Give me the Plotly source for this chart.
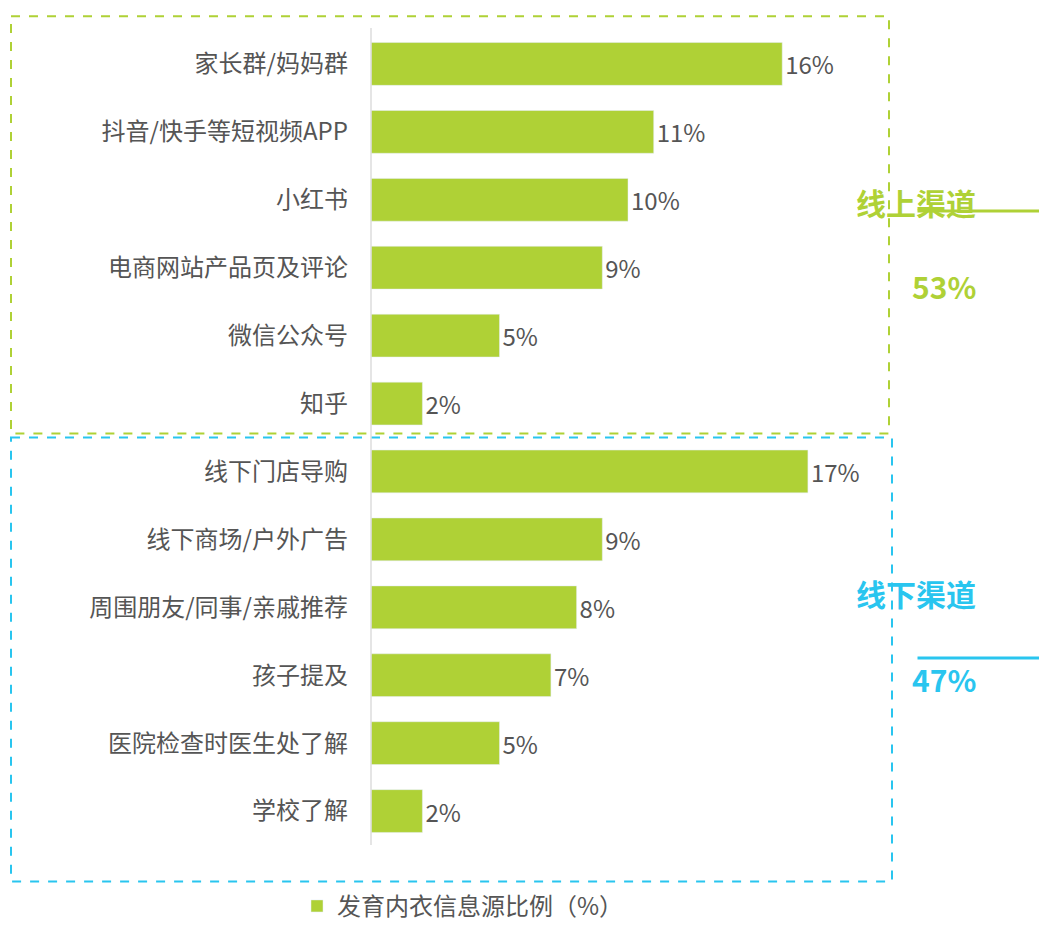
import plotly.graph_objects as go

categories = ["家长群/妈妈群", "抖音/快手等短视频APP", "小红书", "电商网站产品页及评论", "微信公众号", "知乎",
              "线下门店导购", "线下商场/户外广告", "周围朋友/同事/亲戚推荐", "孩子提及", "医院检查时医生处了解", "学校了解"]
values = [16, 11, 10, 9, 5, 2, 17, 9, 8, 7, 5, 2]
online_label, online_share = "线上渠道", "53%"
offline_label, offline_share = "线下渠道", "47%"
legend_name = "发育内衣信息源比例（%）"

W, H = 1047, 933
L, R, T, B = 363, 877, 22, 846
GREEN = "#AFD136"
BLUE = "#29C5EF"
FONT = "Noto Sans CJK SC"


def px(x):
    return (x - L) / (R - L)


def py(y):
    return (B - y) / (B - T)


fig = go.Figure(go.Bar(
    y=categories, x=values, orientation="h", marker_color=GREEN, name=legend_name,
    text=[f"{v}%" for v in values], textposition="outside",
    textfont=dict(size=24, color="#555555", family=FONT), cliponaxis=False,
))

shapes = [
    dict(type="rect", x0=px(3), x1=px(881), y0=py(8), y1=py(430), xref="paper", yref="paper",
         line=dict(color=GREEN, width=2, dash="dash")),
    dict(type="rect", x0=px(3), x1=px(884), y0=py(434), y1=py(883), xref="paper", yref="paper",
         line=dict(color=BLUE, width=2, dash="dash")),
    dict(type="line", x0=px(363), x1=px(363), y0=py(20), y1=py(846), xref="paper", yref="paper",
         line=dict(color="#DDDDDD", width=1.5)),
]
annotations = []
for label, share, color, ty, ly, sy in [(online_label, online_share, GREEN, 172, 205, 257),
                                        (offline_label, offline_share, BLUE, 615, 657, 702)]:
    annotations.append(dict(x=px(970), y=py(ty), xref="paper", yref="paper", text=f"<b>{label}</b>",
                            showarrow=False, font=dict(size=30, color=color, family=FONT)))
    annotations.append(dict(x=px(970), y=py(sy), xref="paper", yref="paper", text=f"<b>{share}</b>",
                            showarrow=False, font=dict(size=30, color=color, family=FONT)))
    annotations.append(dict(x=px(1045), y=py(ly), ax=-137, ay=0, xref="paper", yref="paper",
                            axref="pixel", ayref="pixel", text="", showarrow=True, arrowhead=2,
                            arrowsize=0.6, arrowwidth=3, arrowcolor=color))

fig.update_layout(
    width=W, height=H, margin=dict(l=L, r=W - R, t=T, b=H - B),
    plot_bgcolor="white", paper_bgcolor="white", bargap=0.37,
    font=dict(family=FONT, size=24, color="#555555"),
    xaxis=dict(range=[0, 20], visible=False),
    yaxis=dict(autorange="reversed", showline=False, ticks="", ticklabelstandoff=22,
               tickfont=dict(size=24, color="#555555")),
    showlegend=True,
    legend=dict(orientation="h", x=px(455), xanchor="center", y=py(908), yanchor="middle",
                font=dict(size=24, color="#555555"), itemwidth=30),
    shapes=shapes, annotations=annotations,
)
fig.write_html("out.html")
